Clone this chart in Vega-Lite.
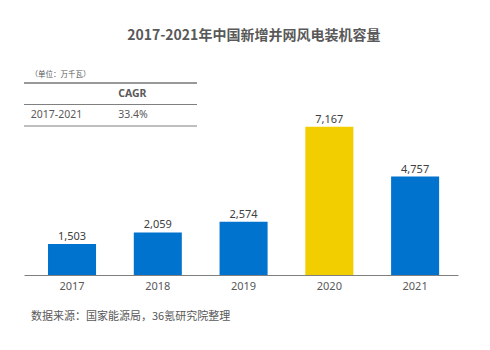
{
  "$schema": "https://vega.github.io/schema/vega-lite/v6.json",
  "background": "white",
  "padding": {"left": 23, "top": 29, "right": 10, "bottom": 10},
  "title": {"text": "2017-2021年中国新增并网风电装机容量", "fontSize": 14, "font": "Noto Sans CJK SC", "fontWeight": "bold", "color": "#595959", "anchor": "middle", "dx": 13, "offset": 28},
  "spacing": 0,
  "bounds": "flush",
  "config": {"view": {"stroke": null}, "font": "Noto Sans"},
  "vconcat": [
    {
      "width": 173,
      "height": 43,
      "title": {"text": "（单位：万千瓦）", "fontSize": 7.5, "font": "Noto Sans CJK SC", "fontWeight": "normal", "color": "#595959", "anchor": "start", "dx": 7, "offset": 4},
      "data": {"values": [
        {"row": "rule_top", "kind": "rule", "shade": "dark"},
        {"row": "header", "kind": "text", "col": "value", "text": "CAGR"},
        {"row": "rule_mid", "kind": "rule", "shade": "light"},
        {"row": "data", "kind": "text", "col": "label", "text": "2017-2021"},
        {"row": "data", "kind": "text", "col": "value", "text": "33.4%"},
        {"row": "rule_bottom", "kind": "rule", "shade": "light"}
      ]},
      "encoding": {
        "y": {"field": "row", "type": "nominal", "scale": {"type": "point", "domain": ["rule_top", "header", "rule_mid", "data", "rule_bottom"], "padding": 0}, "axis": null}
      },
      "layer": [
        {
          "transform": [{"filter": "datum.kind === 'rule'"}],
          "mark": {"type": "rule", "strokeWidth": 1},
          "encoding": {
            "stroke": {"field": "shade", "type": "nominal", "scale": {"domain": ["dark", "light"], "range": ["#333333", "#808080"]}, "legend": null}
          }
        },
        {
          "transform": [{"filter": "datum.row === 'header'"}],
          "mark": {"type": "text", "align": "left", "baseline": "middle", "fontSize": 10.5, "fontWeight": "bold", "color": "#595959"},
          "encoding": {
            "x": {"field": "col", "type": "nominal", "scale": {"type": "point", "domain": ["label", "value"], "padding": 0.49, "align": 0.08}, "axis": null},
            "text": {"field": "text"}
          }
        },
        {
          "transform": [{"filter": "datum.row === 'data'"}],
          "mark": {"type": "text", "align": "left", "baseline": "middle", "fontSize": 10.5, "color": "#595959"},
          "encoding": {
            "x": {"field": "col", "type": "nominal", "scale": {"type": "point", "domain": ["label", "value"], "padding": 0.49, "align": 0.08}, "axis": null},
            "text": {"field": "text"}
          }
        }
      ],
      "resolve": {"scale": {"x": "shared"}}
    },
    {
      "width": 434,
      "height": 149,
      "title": {"text": "数据来源：国家能源局，36氪研究院整理", "orient": "bottom", "anchor": "start", "dx": 7, "fontSize": 11, "font": "Noto Sans CJK SC", "fontWeight": "normal", "color": "#595959", "offset": 20},
      "data": {"values": [
        {"year": "2017", "value": 1503},
        {"year": "2018", "value": 2059},
        {"year": "2019", "value": 2574},
        {"year": "2020", "value": 7167},
        {"year": "2021", "value": 4757}
      ]},
      "encoding": {
        "x": {"field": "year", "type": "ordinal", "scale": {"paddingInner": 0.44, "paddingOuter": 0.25, "align": 0.56}, "axis": {"title": null, "labelAngle": 0, "ticks": false, "domainColor": "#7f7f7f", "labelColor": "#595959", "labelFontSize": 11, "labelPadding": 5, "labelFont": "Noto Sans"}},
        "y": {"field": "value", "type": "quantitative", "scale": {"domain": [0, 7200], "nice": false}, "axis": null}
      },
      "layer": [
        {
          "mark": {"type": "bar"},
          "encoding": {
            "color": {"condition": {"test": "datum.year === '2020'", "value": "#F2CD00"}, "value": "#0073CF"}
          }
        },
        {
          "mark": {"type": "text", "baseline": "bottom", "dy": -2, "fontSize": 11, "color": "#404040"},
          "encoding": {"text": {"field": "value", "type": "quantitative", "format": ","}}
        }
      ]
    }
  ]
}
